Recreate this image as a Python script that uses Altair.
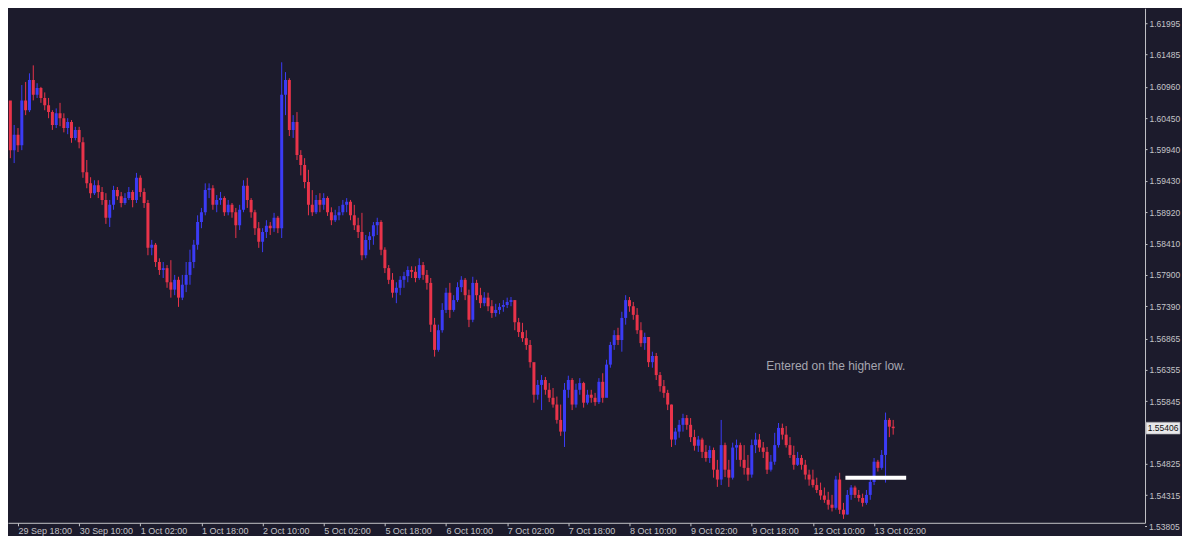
import altair as alt
import pandas as pd

# ---------------- data (H1 bars) ----------------
first_bar = -4            # bar index of first visible candle (0 = "29 Sep 18:00")
first_open = 1.6083

close = [
    1.6055, 1.6074, 1.5993, 1.6018,
    1.6001, 1.6074, 1.6058, 1.6107, 1.6083, 1.6094, 1.6078, 1.6066, 1.6055, 1.6034,
    1.6053, 1.6045, 1.6029, 1.6039, 1.6013, 1.6026, 1.6006, 1.5957, 1.5939, 1.5923,
    1.5936, 1.5925, 1.5912, 1.5883, 1.5904, 1.5928, 1.5918, 1.5907, 1.5915, 1.5925,
    1.5912, 1.5948, 1.5925, 1.5907, 1.5834, 1.5839, 1.5811, 1.5798, 1.5801, 1.5778,
    1.5766, 1.5782, 1.5753, 1.5774, 1.5790, 1.5811, 1.5839, 1.5876, 1.5892, 1.5928,
    1.5931, 1.5904, 1.5912, 1.5915, 1.5892, 1.5904, 1.5892, 1.5871, 1.5896, 1.5935,
    1.5912, 1.5892, 1.5866, 1.5844, 1.5860, 1.5870, 1.5866, 1.5883, 1.5866, 1.6083,
    1.6107, 1.6026, 1.6039, 1.5985, 1.5969, 1.5941, 1.5904, 1.5892, 1.5912, 1.5904,
    1.5915, 1.5892, 1.5879, 1.5887, 1.5892, 1.5904, 1.5909, 1.5887, 1.5871, 1.5860,
    1.5822, 1.5847, 1.5853, 1.5871, 1.5876, 1.5831, 1.5801, 1.5782, 1.5761, 1.5769,
    1.5782, 1.5788, 1.5798, 1.5795, 1.5785, 1.5806, 1.5790, 1.5777, 1.5709, 1.5668,
    1.5700, 1.5733, 1.5761, 1.5733, 1.5749, 1.5770, 1.5782, 1.5757, 1.5717, 1.5777,
    1.5757, 1.5744, 1.5753, 1.5739, 1.5728, 1.5733, 1.5738, 1.5741, 1.5746, 1.5749,
    1.5713, 1.5697, 1.5687, 1.5676, 1.5648, 1.5595, 1.5611, 1.5619, 1.5603, 1.5590,
    1.5579, 1.5554, 1.5535, 1.5603, 1.5619, 1.5579, 1.5603, 1.5614, 1.5582, 1.5595,
    1.5590, 1.5583, 1.5616, 1.5590, 1.5644, 1.5676, 1.5692, 1.5684, 1.5720, 1.5749,
    1.5739, 1.5725, 1.5700, 1.5679, 1.5689, 1.5648, 1.5658, 1.5627, 1.5609, 1.5598,
    1.5579, 1.5522, 1.5535, 1.5546, 1.5557, 1.5546, 1.5526, 1.5512, 1.5522, 1.5502,
    1.5492, 1.5505, 1.5473, 1.5457, 1.5513, 1.5473, 1.5460, 1.5509, 1.5513, 1.5489,
    1.5476, 1.5465, 1.5513, 1.5522, 1.5509, 1.5502, 1.5473, 1.5486, 1.5513, 1.5541,
    1.5530, 1.5513, 1.5497, 1.5481, 1.5492, 1.5481, 1.5465, 1.5457, 1.5448, 1.5440,
    1.5431, 1.5424, 1.5416, 1.5411, 1.5457, 1.5408, 1.5400, 1.5432, 1.5444, 1.5432,
    1.5427, 1.5419, 1.5432, 1.5453, 1.5486, 1.5476, 1.5497, 1.5554, 1.5543, 1.55406,
]

high = [
    1.6091, 1.6083, 1.6066, 1.6034,
    1.6029, 1.6099, 1.6104, 1.6118, 1.6131, 1.6102, 1.6096, 1.6087, 1.6078, 1.6058,
    1.6061, 1.6070, 1.6053, 1.6045, 1.6042, 1.6031, 1.6031, 1.6014, 1.5977, 1.5949,
    1.5944, 1.5944, 1.5933, 1.5923, 1.5912, 1.5935, 1.5933, 1.5925, 1.5923, 1.5933,
    1.5928, 1.5956, 1.5952, 1.5931, 1.5912, 1.5847, 1.5842, 1.5817, 1.5811, 1.5806,
    1.5814, 1.5790, 1.5787, 1.5790, 1.5811, 1.5831, 1.5847, 1.5887, 1.5899, 1.5939,
    1.5939, 1.5936, 1.5920, 1.5925, 1.5918, 1.5912, 1.5907, 1.5899, 1.5904, 1.5944,
    1.5948, 1.5915, 1.5896, 1.5876, 1.5866, 1.5879, 1.5876, 1.5891, 1.5886, 1.6136,
    1.6120, 1.6110, 1.6050, 1.6055, 1.5993, 1.5980, 1.5961, 1.5928, 1.5920, 1.5923,
    1.5923, 1.5918, 1.5900, 1.5896, 1.5902, 1.5912, 1.5915, 1.5912, 1.5904, 1.5883,
    1.5891, 1.5855, 1.5860, 1.5876, 1.5883, 1.5879, 1.5835, 1.5806, 1.5793, 1.5778,
    1.5788, 1.5795, 1.5804, 1.5804, 1.5804, 1.5817, 1.5811, 1.5798, 1.5785, 1.5720,
    1.5709, 1.5744, 1.5769, 1.5777, 1.5757, 1.5778, 1.5788, 1.5785, 1.5766, 1.5787,
    1.5782, 1.5769, 1.5762, 1.5761, 1.5749, 1.5743, 1.5744, 1.5749, 1.5753, 1.5754,
    1.5749, 1.5720, 1.5712, 1.5700, 1.5684, 1.5644, 1.5619, 1.5627, 1.5624, 1.5614,
    1.5606, 1.5592, 1.5579, 1.5614, 1.5626, 1.5622, 1.5613, 1.5622, 1.5616, 1.5603,
    1.5603, 1.5598, 1.5622, 1.5630, 1.5652, 1.5681, 1.5700, 1.5704, 1.5730, 1.5757,
    1.5754, 1.5746, 1.5736, 1.5713, 1.5696, 1.5687, 1.5665, 1.5663, 1.5632, 1.5619,
    1.5603, 1.5579, 1.5541, 1.5554, 1.5564, 1.5562, 1.5557, 1.5538, 1.5528, 1.5525,
    1.5513, 1.5512, 1.5509, 1.5489, 1.5554, 1.5517, 1.5489, 1.5517, 1.5522, 1.5517,
    1.5513, 1.5497, 1.5522, 1.5533, 1.5531, 1.5518, 1.5510, 1.5497, 1.5533, 1.5549,
    1.5548, 1.5544, 1.5526, 1.5512, 1.5502, 1.5497, 1.5489, 1.5473, 1.5473, 1.5460,
    1.5452, 1.5444, 1.5437, 1.5432, 1.5463, 1.5468, 1.5419, 1.5440, 1.5448, 1.5447,
    1.5440, 1.5434, 1.5440, 1.5460, 1.5492, 1.5489, 1.5505, 1.5566, 1.5557, 1.5554,
]

low = [
    1.6045, 1.6050, 1.5980, 1.5972,
    1.5990, 1.5993, 1.6050, 1.6055, 1.6074, 1.6078, 1.6070, 1.6058, 1.6045, 1.6026,
    1.6029, 1.6032, 1.6022, 1.6019, 1.6005, 1.6009, 1.5996, 1.5948, 1.5931, 1.5915,
    1.5920, 1.5915, 1.5904, 1.5873, 1.5868, 1.5896, 1.5912, 1.5900, 1.5904, 1.5912,
    1.5900, 1.5907, 1.5917, 1.5899, 1.5822, 1.5822, 1.5803, 1.5790, 1.5785, 1.5769,
    1.5753, 1.5757, 1.5738, 1.5749, 1.5762, 1.5774, 1.5801, 1.5831, 1.5866, 1.5887,
    1.5915, 1.5896, 1.5892, 1.5904, 1.5886, 1.5887, 1.5883, 1.5850, 1.5863, 1.5892,
    1.5899, 1.5883, 1.5855, 1.5834, 1.5827, 1.5850, 1.5855, 1.5860, 1.5858, 1.5850,
    1.6050, 1.6016, 1.6013, 1.5977, 1.5952, 1.5931, 1.5887, 1.5886, 1.5889, 1.5892,
    1.5896, 1.5886, 1.5871, 1.5876, 1.5879, 1.5887, 1.5892, 1.5879, 1.5863, 1.5850,
    1.5814, 1.5817, 1.5831, 1.5839, 1.5855, 1.5822, 1.5793, 1.5775, 1.5753, 1.5744,
    1.5757, 1.5769, 1.5778, 1.5785, 1.5778, 1.5782, 1.5782, 1.5766, 1.5697, 1.5657,
    1.5665, 1.5696, 1.5728, 1.5720, 1.5730, 1.5746, 1.5762, 1.5749, 1.5705, 1.5713,
    1.5749, 1.5736, 1.5739, 1.5731, 1.5720, 1.5722, 1.5726, 1.5730, 1.5736, 1.5739,
    1.5700, 1.5689, 1.5681, 1.5668, 1.5639, 1.5582, 1.5587, 1.5570, 1.5595, 1.5583,
    1.5574, 1.5548, 1.5528, 1.5510, 1.5590, 1.5570, 1.5574, 1.5595, 1.5574, 1.5579,
    1.5582, 1.5577, 1.5580, 1.5582, 1.5600, 1.5639, 1.5668, 1.5676, 1.5665, 1.5709,
    1.5730, 1.5717, 1.5694, 1.5673, 1.5668, 1.5640, 1.5639, 1.5619, 1.5600, 1.5590,
    1.5570, 1.5510, 1.5513, 1.5525, 1.5535, 1.5538, 1.5518, 1.5504, 1.5502, 1.5492,
    1.5486, 1.5484, 1.5460, 1.5445, 1.5448, 1.5461, 1.5445, 1.5457, 1.5489, 1.5478,
    1.5465, 1.5455, 1.5460, 1.5500, 1.5502, 1.5492, 1.5466, 1.5470, 1.5481, 1.5509,
    1.5522, 1.5509, 1.5492, 1.5473, 1.5479, 1.5473, 1.5457, 1.5447, 1.5444, 1.5435,
    1.5424, 1.5419, 1.5408, 1.5405, 1.5408, 1.5401, 1.5393, 1.5400, 1.5424, 1.5427,
    1.5421, 1.5413, 1.5416, 1.5424, 1.5448, 1.5470, 1.5473, 1.5452, 1.5526, 1.5530,
]

time_labels = ["29 Sep 18:00", "30 Sep 10:00", "1 Oct 02:00", "1 Oct 18:00",
               "2 Oct 10:00", "5 Oct 02:00", "5 Oct 18:00", "6 Oct 10:00",
               "7 Oct 02:00", "7 Oct 18:00", "8 Oct 10:00", "9 Oct 02:00",
               "9 Oct 18:00", "12 Oct 10:00", "13 Oct 02:00"]
bars_per_label = 16

price_ticks = [1.61995, 1.61485, 1.60960, 1.60450, 1.59940, 1.59430, 1.58920,
               1.58410, 1.57900, 1.57390, 1.56865, 1.56355, 1.55845, 1.54825,
               1.54315]
corner_tick = 1.53805     # last price label, sits just below the plot's bottom edge

current_price = 1.55406
entry_price = 1.5460
entry_from_bar = 216.5
entry_to_bar = 232.4
note_text = "Entered on the higher low."
note_bar = 195.8
note_price = 1.5642

# ---------------- build tables ----------------
opens = [first_open] + close[:-1]
bars = pd.DataFrame({
    "bar": list(range(first_bar, first_bar + len(close))),
    "open": opens, "high": high, "low": low, "close": close,
})
bars["dir"] = ["up" if c >= o else "down" for o, c in zip(opens, close)]

BG = "#1c1b2c"
RED = "#e8334a"
BLUE = "#3b3bf5"
AX = "#c4c4c8"
FONT = "Liberation Sans"

W, H = 1138, 515

xscale = alt.Scale(domain=[-2.614, 294.9], nice=False, zero=False)
yscale = alt.Scale(domain=[1.53866, 1.62240], nice=False, zero=False)

label_expr = ("[" + ",".join("'%s'" % t for t in time_labels) + "]"
              "[round(datum.value / %d)]" % bars_per_label)

xaxis = alt.Axis(values=[k * bars_per_label for k in range(len(time_labels))],
                 labelExpr=label_expr, orient="bottom", labelAlign="left",
                 labelColor=AX, labelFont=FONT, labelFontSize=9, labelPadding=1,
                 tickSize=3, tickColor=AX, domainColor=AX, grid=False,
                 labelFlush=False, labelOverlap=False, labelBound=False, title=None)
yaxis = alt.Axis(values=price_ticks, format=".5f", orient="right",
                 labelColor=AX, labelFont=FONT, labelFontSize=8.5, labelPadding=2,
                 tickSize=2, tickColor=AX, domainColor=AX, grid=False,
                 labelOverlap=False, labelFlush=False, title=None)


def X(field):
    return alt.X(field, type="quantitative", scale=xscale, axis=xaxis, title=None)


def Y(field):
    return alt.Y(field, type="quantitative", scale=yscale, axis=yaxis, title=None)


color = alt.Color("dir:N", scale=alt.Scale(domain=["up", "down"], range=[BLUE, RED]),
                  legend=None)

wick = alt.Chart(bars).mark_rule(strokeWidth=1, clip=True).encode(
    x=X("bar"), y=Y("low"), y2="high", color=color)
body = alt.Chart(bars).mark_rule(strokeWidth=3, clip=True).encode(
    x=X("bar"), y=Y("open"), y2="close", color=color)

entry_df = pd.DataFrame({"x0": [entry_from_bar], "x1": [entry_to_bar], "p": [entry_price]})
entry = alt.Chart(entry_df).mark_rule(color="#ffffff", strokeWidth=4).encode(
    x=X("x0"), x2="x1", y=Y("p"))

note_df = pd.DataFrame({"bar": [note_bar], "p": [note_price], "t": [note_text]})
note = alt.Chart(note_df).mark_text(align="left", baseline="middle", font=FONT,
                                    fontSize=12, color="#a6a6b0").encode(
    x=X("bar"), y=Y("p"), text="t:N")

corner_df = pd.DataFrame({"p": [corner_tick], "t": ["%.5f" % corner_tick]})
corner_mark = alt.Chart(corner_df).mark_rule(color=AX, strokeWidth=1, clip=False).encode(
    x=alt.value(W), x2=alt.value(W + 2), y=Y("p"))
corner_label = alt.Chart(corner_df).mark_text(
    align="left", baseline="middle", font=FONT, fontSize=8.5, color=AX,
    clip=False).encode(x=alt.value(W + 4), y=Y("p"), text="t:N")

price_df = pd.DataFrame({"p": [current_price], "t": ["%.5f" % current_price]})
box = alt.Chart(price_df).mark_point(
    shape="M-1,-0.35L1,-0.35L1,0.35L-1,0.35Z", filled=True, fill="#e8e8ea",
    stroke="#9a9aa0", strokeWidth=0.6, opacity=1, size=34 * 34, clip=False).encode(
    x=alt.value(W + 18), y=Y("p"))
box_text = alt.Chart(price_df).mark_text(
    align="center", baseline="middle", font=FONT, fontSize=8.5, color="#111111",
    clip=False).encode(x=alt.value(W + 18), y=Y("p"), text="t:N")

chart = alt.layer(wick, body, entry, note, corner_mark, corner_label, box, box_text).properties(
    width=W, height=H, padding=0, background=BG
).configure_view(strokeWidth=0)

chart.save("out.html", embed_options={"renderer": "svg", "actions": False})
